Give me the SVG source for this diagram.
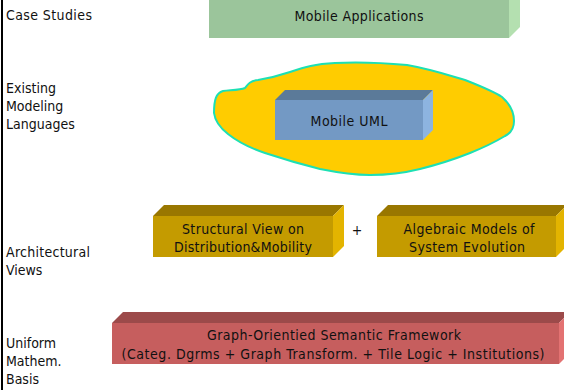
<svg xmlns="http://www.w3.org/2000/svg" width="564" height="390" viewBox="0 0 564 390">
  <style>
    text { font-family: "DejaVu Sans Condensed", "DejaVu Sans", sans-serif; font-stretch: condensed; font-size: 14px; fill: #111; }
    .c { text-anchor: middle; }
    .g-front { fill: #9BC59B; } .g-side { fill: #B4E0B0; }
    .b-front { fill: #7399C4; } .b-top { fill: #5B7A99; } .b-side { fill: #8DB4E0; }
    .y-front { fill: #C49B00; } .y-top { fill: #997700; } .y-side { fill: #E3B400; }
    .r-front { fill: #C65E5E; } .r-top { fill: #9C4A4A; } .r-side { fill: #E37272; }
  </style>

  <rect x="0" y="0" width="564" height="390" fill="#fff"/>
  <!-- left margin rule -->
  <line x1="2" y1="0" x2="2" y2="390" stroke="#000" stroke-width="2"/>

  <!-- layer labels -->
  <g id="labels">
    <text x="6" y="20" textLength="86">Case Studies</text>
    <text x="6" y="93">Existing</text>
    <text x="6" y="111">Modeling</text>
    <text x="6" y="129">Languages</text>
    <text x="6" y="257" textLength="84">Architectural</text>
    <text x="6" y="275">Views</text>
    <text x="6" y="348">Uniform</text>
    <text x="6" y="366">Mathem.</text>
    <text x="6" y="384">Basis</text>
  </g>

  <!-- case studies block -->
  <g id="mobile-applications">
    <rect class="g-front" x="209" y="-20" width="300" height="58"/>
    <polygon class="g-side" points="509,-20 520,-31 520,27 509,38"/>
    <text class="c" x="359" y="21" textLength="129">Mobile Applications</text>
  </g>

  <!-- modeling language cloud -->
  <g id="modeling-languages">
    <path d="M214,113 C214,100 216,93 223,91 C232,90 240,90 245,88 C248,84 250,81 258,80 C270,78 278,76 290,72 C305,67 315,64 335,63 C355,62 385,63 407,65 C430,69 445,74 465,80 C480,86 493,91 502,97 C510,104 514,112 514,121 C514,129 511,133 505,136 C495,142 485,147 470,153 C455,159 440,164 420,169 C400,174 385,175 370,175 C350,175 335,172 320,169 C300,164 283,159 265,153 C250,148 238,142 228,134 C219,127 215,121 214,113 Z" fill="#FFCC00" stroke="#1DE0B4" stroke-width="2"/>
  </g>

  <g id="mobile-uml">
    <rect class="b-front" x="275" y="100" width="148" height="40"/>
    <polygon class="b-top" points="275,100 285,90 433,90 423,100"/>
    <polygon class="b-side" points="423,100 433,90 433,130 423,140"/>
    <text class="c" x="349" y="126" textLength="77">Mobile UML</text>
  </g>

  <!-- architectural views -->
  <g id="structural-view">
    <rect class="y-front" x="153" y="216" width="180" height="41"/>
    <polygon class="y-top" points="153,216 164,205 344,205 333,216"/>
    <polygon class="y-side" points="333,216 344,205 344,246 333,257"/>
    <text class="c" x="243" y="234" textLength="122">Structural View on</text>
    <text class="c" x="243" y="252" textLength="138">Distribution&amp;Mobility</text>
  </g>

  <text class="c" x="357" y="235">+</text>

  <g id="algebraic-models">
    <rect class="y-front" x="377" y="216" width="179" height="41"/>
    <polygon class="y-top" points="377,216 388,205 567,205 556,216"/>
    <polygon class="y-side" points="556,216 567,205 567,246 556,257"/>
    <text class="c" x="469" y="234" textLength="131">Algebraic Models of</text>
    <text class="c" x="467" y="252" textLength="116">System Evolution</text>
  </g>

  <!-- mathematical basis -->
  <g id="semantic-framework">
    <rect class="r-front" x="112" y="323" width="447" height="41"/>
    <polygon class="r-top" points="112,323 123,312 570,312 559,323"/>
    <polygon class="r-side" points="559,323 570,312 570,353 559,364"/>
    <text class="c" x="334" y="340" textLength="254">Graph-Orientied Semantic Framework</text>
    <text class="c" x="333" y="359" textLength="423">(Categ. Dgrms + Graph Transform. + Tile Logic + Institutions)</text>
  </g>
</svg>
